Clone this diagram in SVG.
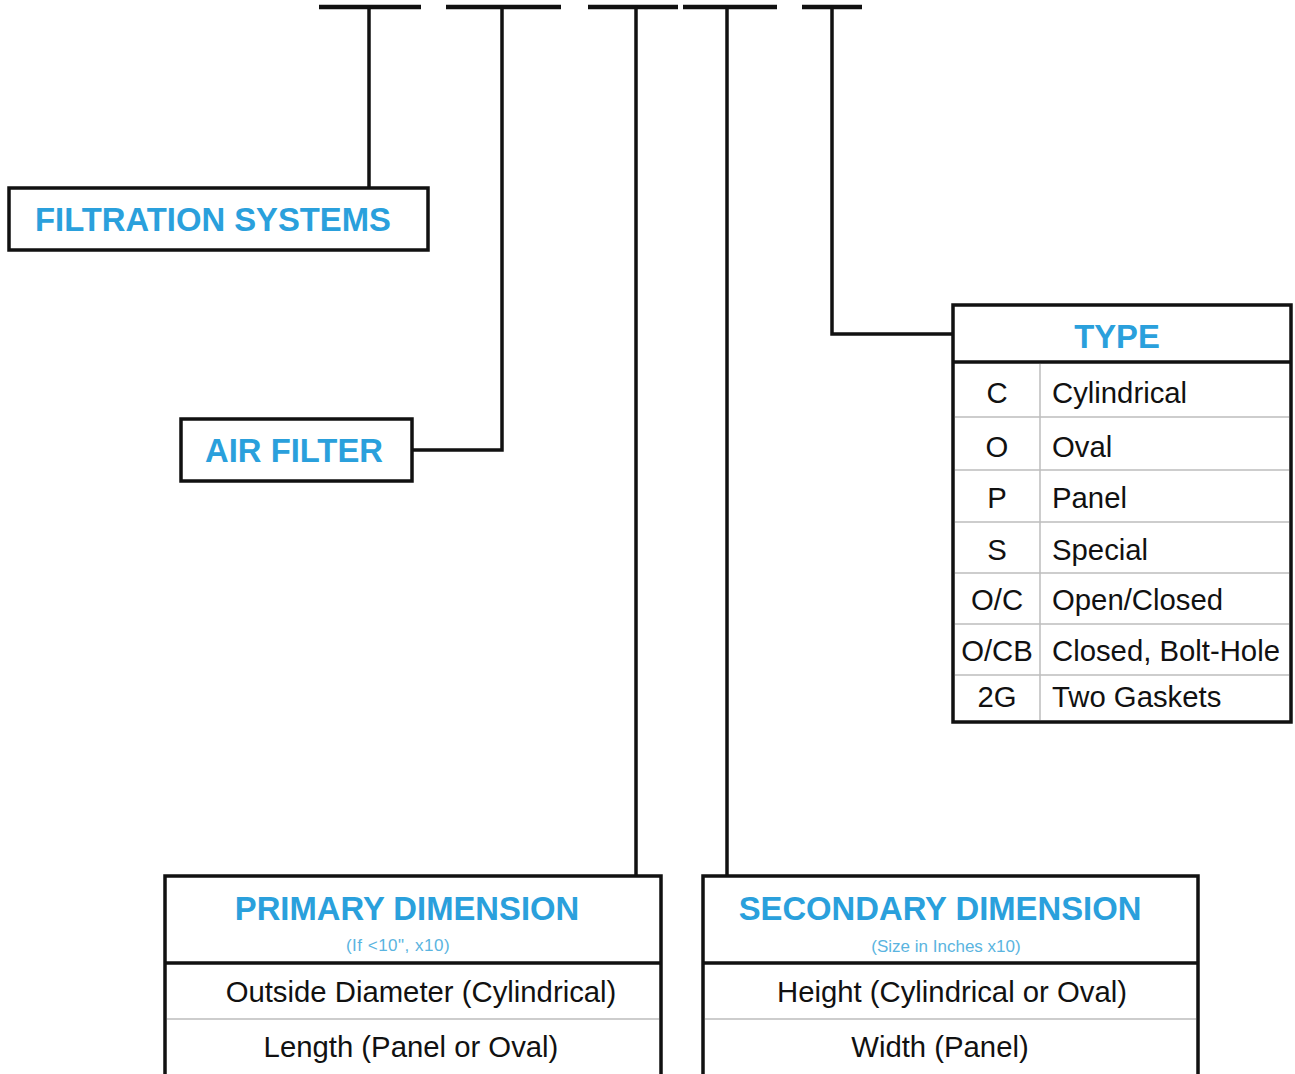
<svg xmlns="http://www.w3.org/2000/svg" width="1295" height="1074" viewBox="0 0 1295 1074">
<style>
.box{fill:#fff;stroke:#111;stroke-width:3.5}
.ln{stroke:#111;stroke-width:3.5;fill:none}
.bar{stroke:#111;stroke-width:4.5;fill:none}
.thin{stroke:#bdbdbd;stroke-width:1.5}
.hd{font-family:"Liberation Sans",Arial,sans-serif;font-weight:bold;font-size:32.8px;fill:#2aa0dc;text-anchor:middle}
.sub{font-family:"Liberation Sans",Arial,sans-serif;font-size:17px;fill:#5ab4e0;text-anchor:middle}
.tx{font-family:"Liberation Sans",Arial,sans-serif;font-size:29.3px;fill:#111}
.c{text-anchor:middle}
</style>
<rect width="1295" height="1074" fill="#fff"/>
<g id="connectors">
<path class="bar" d="M319 7H421M446 7H561M588 7H678M683 7H777M802 7H862"/>
<path class="ln" d="M369 7V188"/>
<path class="ln" d="M502 7V450H412"/>
<path class="ln" d="M636 7V876"/>
<path class="ln" d="M727 7V876"/>
<path class="ln" d="M832 7V334H953"/>
</g>
<g id="filtration-systems">
<rect class="box" x="9" y="188" width="419" height="62"/>
<text class="hd" x="213" y="231">FILTRATION SYSTEMS</text>
</g>
<g id="air-filter">
<rect class="box" x="181" y="419" width="231" height="62"/>
<text class="hd" x="294" y="462">AIR FILTER</text>
</g>
<g id="type">
<rect class="box" x="953" y="305" width="338" height="417"/>
<line class="ln" x1="953" y1="362" x2="1291" y2="362"/>
<line class="thin" x1="1040" y1="364" x2="1040" y2="720"/>
<path class="thin" d="M955 417H1289M955 470H1289M955 522H1289M955 573H1289M955 624H1289M955 675H1289"/>
<text class="hd" x="1117" y="348">TYPE</text>
<g class="tx">
<text class="c" x="997" y="403">C</text><text x="1052" y="403">Cylindrical</text>
<text class="c" x="997" y="457">O</text><text x="1052" y="457">Oval</text>
<text class="c" x="997" y="508">P</text><text x="1052" y="508">Panel</text>
<text class="c" x="997" y="560">S</text><text x="1052" y="560">Special</text>
<text class="c" x="997" y="610">O/C</text><text x="1052" y="610">Open/Closed</text>
<text class="c" x="997" y="661">O/CB</text><text x="1052" y="661">Closed, Bolt-Hole</text>
<text class="c" x="997" y="707">2G</text><text x="1052" y="707">Two Gaskets</text>
</g>
</g>
<g id="primary-dimension">
<rect class="box" x="165" y="876" width="496" height="210"/>
<line class="ln" x1="165" y1="963" x2="661" y2="963"/>
<line class="thin" x1="167" y1="1019" x2="659" y2="1019"/>
<text class="hd" x="407" y="920">PRIMARY DIMENSION</text>
<text class="sub" x="398" y="951" letter-spacing="0.5">(If &lt;10", x10)</text>
<text class="tx c" x="421" y="1002">Outside Diameter (Cylindrical)</text>
<text class="tx c" x="411" y="1057">Length (Panel or Oval)</text>
</g>
<g id="secondary-dimension">
<rect class="box" x="703" y="876" width="495" height="210"/>
<line class="ln" x1="703" y1="963" x2="1198" y2="963"/>
<line class="thin" x1="705" y1="1019" x2="1196" y2="1019"/>
<text class="hd" x="940" y="920">SECONDARY DIMENSION</text>
<text class="sub" x="946" y="952">(Size in Inches x10)</text>
<text class="tx c" x="952" y="1002">Height (Cylindrical or Oval)</text>
<text class="tx c" x="940" y="1057">Width (Panel)</text>
</g>
</svg>
